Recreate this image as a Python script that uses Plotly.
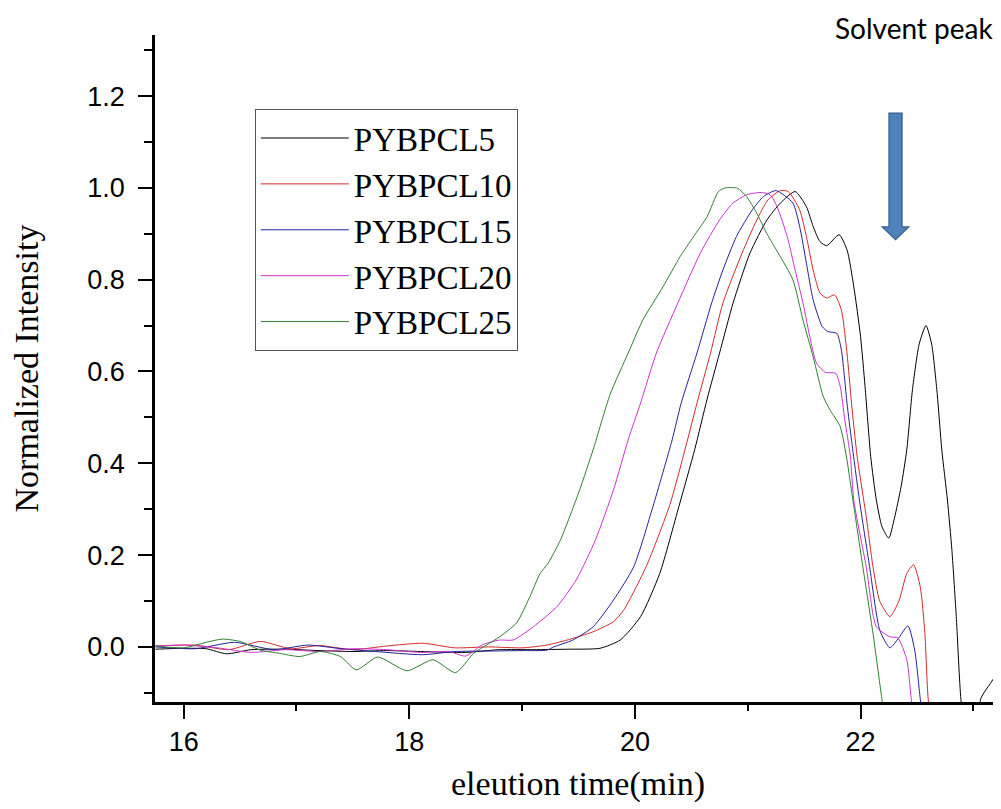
import plotly.graph_objects as go

# ---- data ----
series_names = ["PYBPCL5", "PYBPCL10", "PYBPCL15", "PYBPCL20", "PYBPCL25"]

t_pybpcl5 = [15.75, 16.0, 16.2, 16.38, 16.6, 16.9, 17.2, 17.5, 17.8, 18.1, 18.5, 18.8, 19.1, 19.4, 19.69,
             19.87, 20.05, 20.22, 20.39, 20.53, 20.64, 20.75, 20.87, 21.02, 21.17, 21.29, 21.42, 21.52,
             21.58, 21.64, 21.70, 21.81, 21.88, 21.94, 22.00, 22.04, 22.09, 22.14, 22.19, 22.25, 22.30,
             22.36, 22.41, 22.46, 22.52, 22.58, 22.63, 22.68, 22.72, 22.77, 22.81, 22.85, 22.89, 22.95,
             23.00, 23.07, 23.15, 23.22, 23.30]
v_pybpcl5 = [-0.005, -0.003, -0.004, -0.015, -0.006, -0.005, -0.008, -0.010, -0.008, -0.010, -0.012, -0.006,
             -0.006, -0.005, -0.003, 0.015, 0.066, 0.160, 0.306, 0.430, 0.540, 0.640, 0.749, 0.858, 0.930,
             0.967, 0.992, 0.959, 0.916, 0.883, 0.874, 0.898, 0.865, 0.785, 0.676, 0.567, 0.415, 0.320,
             0.262, 0.237, 0.280, 0.350, 0.430, 0.560, 0.660, 0.700, 0.660, 0.550, 0.430, 0.320, 0.210,
             0.060, -0.115, -0.220, -0.200, -0.110, -0.080, -0.054, -0.030]

t_pybpcl10 = [15.75, 16.1, 16.4, 16.68, 16.95, 17.2, 17.5, 17.8, 18.12, 18.4, 18.7, 19.0, 19.22, 19.4,
              19.63, 19.81, 19.90, 20.10, 20.31, 20.46, 20.55, 20.67, 20.78, 20.95, 21.08, 21.18, 21.29,
              21.36, 21.46, 21.52, 21.58, 21.64, 21.70, 21.77, 21.83, 21.88, 21.92, 21.97, 22.05, 22.11,
              22.17, 22.26, 22.34, 22.41, 22.47, 22.53, 22.57, 22.60, 22.70]
v_pybpcl10 = [0.002, 0.004, -0.006, 0.012, -0.004, 0.003, -0.006, 0.002, 0.008, -0.002, 0.000, -0.002,
              0.004, 0.015, 0.033, 0.055, 0.080, 0.175, 0.310, 0.445, 0.531, 0.640, 0.749, 0.858, 0.930,
              0.974, 0.994, 0.992, 0.952, 0.894, 0.821, 0.771, 0.760, 0.767, 0.734, 0.640, 0.531, 0.415,
              0.284, 0.175, 0.100, 0.066, 0.100, 0.160, 0.179, 0.130, 0.030, -0.115, -0.300]

t_pybpcl15 = [15.75, 16.1, 16.45, 16.8, 17.1, 17.4, 17.7, 18.12, 18.4, 18.7, 19.0, 19.22, 19.28, 19.45,
              19.63, 19.81, 19.99, 20.16, 20.33, 20.41, 20.55, 20.68, 20.78, 20.90, 21.04, 21.14, 21.25,
              21.40, 21.46, 21.52, 21.58, 21.66, 21.71, 21.79, 21.83, 21.88, 21.92, 21.99, 22.08, 22.17,
              22.26, 22.34, 22.42, 22.48, 22.53, 22.62]
v_pybpcl15 = [0.000, -0.004, 0.010, -0.006, 0.004, -0.004, -0.010, -0.017, -0.010, -0.009, -0.008, -0.007,
              0.000, 0.015, 0.044, 0.102, 0.175, 0.306, 0.451, 0.531, 0.640, 0.749, 0.821, 0.894, 0.952,
              0.981, 0.994, 0.967, 0.916, 0.836, 0.756, 0.698, 0.687, 0.683, 0.647, 0.531, 0.450, 0.320,
              0.175, 0.037, -0.002, 0.020, 0.046, -0.007, -0.115, -0.300]

t_pybpcl20 = [15.75, 16.0, 16.3, 16.6, 16.9, 17.2, 17.5, 17.8, 18.1, 18.35, 18.5, 18.65, 18.80, 18.92,
              19.10, 19.31, 19.48, 19.65, 19.81, 19.94, 20.05, 20.19, 20.38, 20.58, 20.75, 20.87, 20.99,
              21.12, 21.20, 21.26, 21.35, 21.42, 21.49, 21.55, 21.61, 21.69, 21.78, 21.82, 21.86, 21.91,
              21.94, 22.05, 22.14, 22.26, 22.33, 22.41, 22.45, 22.55]
v_pybpcl20 = [0.002, 0.004, -0.002, -0.012, -0.006, -0.010, -0.004, -0.006, -0.012, -0.010, -0.020, 0.005,
              0.015, 0.015, 0.044, 0.088, 0.146, 0.233, 0.342, 0.451, 0.531, 0.640, 0.749, 0.858, 0.930,
              0.967, 0.985, 0.990, 0.985, 0.959, 0.894, 0.821, 0.749, 0.676, 0.618, 0.598, 0.596, 0.567,
              0.495, 0.415, 0.320, 0.175, 0.044, 0.022, 0.020, -0.028, -0.115, -0.300]

t_pybpcl25 = [15.75, 16.0, 16.2, 16.34, 16.5, 16.68, 16.85, 17.03, 17.21, 17.39, 17.53, 17.72, 17.98,
              18.21, 18.41, 18.57, 18.69, 18.80, 18.95, 19.07, 19.16, 19.23, 19.34, 19.51, 19.63,
              19.78, 19.94, 20.07, 20.25, 20.40, 20.52, 20.64, 20.74, 20.80, 20.91, 20.99, 21.08, 21.17,
              21.27, 21.40, 21.49, 21.58, 21.67, 21.73, 21.82, 21.88, 21.91, 22.02, 22.11, 22.19, 22.30]
v_pybpcl25 = [0.002, -0.002, 0.010, 0.017, 0.012, -0.007, -0.014, -0.021, -0.010, -0.021, -0.050, -0.022,
              -0.052, -0.028, -0.056, -0.014, 0.005, 0.022, 0.052, 0.110, 0.160, 0.182, 0.233, 0.342,
              0.430, 0.550, 0.640, 0.712, 0.785, 0.850, 0.894, 0.937, 0.992, 1.000, 0.999, 0.981,
              0.945, 0.900, 0.858, 0.800, 0.712, 0.632, 0.545, 0.516, 0.480, 0.407, 0.357, 0.175, 0.030,
              -0.115, -0.300]

series_t = [t_pybpcl5, t_pybpcl10, t_pybpcl15, t_pybpcl20, t_pybpcl25]
series_v = [v_pybpcl5, v_pybpcl10, v_pybpcl15, v_pybpcl20, v_pybpcl25]
series_colors = ["#000000", "#d42a2a", "#22229a", "#cc33cc", "#2f7f2f"]

x_tick_vals = [16, 18, 20, 22]
y_tick_vals = [0.0, 0.2, 0.4, 0.6, 0.8, 1.0, 1.2]

arrow_x = 22.31
arrow_top, arrow_neck, arrow_tip = 1.163, 0.915, 0.887

fig = go.Figure()
for name, tt, vv, col in zip(series_names, series_t, series_v, series_colors):
    fig.add_trace(go.Scatter(x=tt, y=vv, name=name, mode="lines",
                             line=dict(color=col, width=1, shape="spline", smoothing=0.6)))

# block arrow marking the solvent peak
sw, hw = 0.058, 0.118
path = (f"M {arrow_x-sw},{arrow_top} L {arrow_x+sw},{arrow_top} L {arrow_x+sw},{arrow_neck} "
        f"L {arrow_x+hw},{arrow_neck} L {arrow_x},{arrow_tip} L {arrow_x-hw},{arrow_neck} "
        f"L {arrow_x-sw},{arrow_neck} Z")
fig.add_shape(type="path", path=path, xref="x", yref="y",
              fillcolor="#4F81BD", line=dict(color="#385D8A", width=1.2))

fig.add_annotation(text="Solvent peak", xref="paper", yref="paper", x=0.897, y=1.0105,
                   xanchor="center", yanchor="middle", showarrow=False,
                   font=dict(family="Lato", size=28, color="#000000"))

axis_common = dict(showline=True, linecolor="#000000", linewidth=2.5, ticks="outside",
                   tickcolor="#000000", tickwidth=2, ticklen=14, showgrid=False, zeroline=False,
                   mirror=False, tickfont=dict(family="Liberation Sans", size=27, color="#000000"))

fig.update_xaxes(range=[15.746, 23.245], tickvals=x_tick_vals, ticktext=[str(v) for v in x_tick_vals],
                 minor=dict(dtick=1, tick0=16, ticklen=6, tickwidth=2, tickcolor="#000000", ticks="outside"),
                 title=dict(text="eleution time(min)", standoff=16,
                            font=dict(family="Liberation Serif", size=34, color="#000000")),
                 **axis_common)
fig.update_yaxes(range=[-0.12, 1.333], tickvals=y_tick_vals, ticktext=[f"{v:.1f}" for v in y_tick_vals],
                 minor=dict(dtick=0.1, tick0=0, ticklen=8, tickwidth=2, tickcolor="#000000", ticks="outside"),
                 ticklabelstandoff=8,
                 title=dict(text="Normalized Intensity", standoff=40,
                            font=dict(family="Liberation Serif", size=34, color="#000000")),
                 **axis_common)

# the page body has an 8px default margin, so the figure is sized to end at the window edge
fig.update_layout(
    width=993, height=801,
    margin=dict(l=147, r=0, t=27, b=107),
    paper_bgcolor="#ffffff", plot_bgcolor="#ffffff",
    showlegend=True,
    legend=dict(x=0.118, y=0.889, xanchor="left", yanchor="top",
                bgcolor="#ffffff", bordercolor="#555555", borderwidth=1,
                font=dict(family="Liberation Serif", size=33, color="#000000"),
                tracegroupgap=0, itemwidth=88),
)

fig.write_html("out.html")
